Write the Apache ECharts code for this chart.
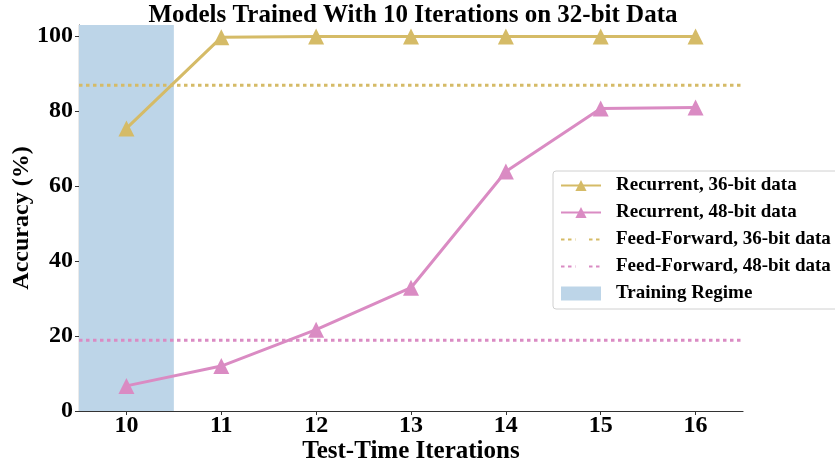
<!DOCTYPE html>
<html>
<head>
<meta charset="utf-8">
<script src="https://cdn.jsdelivr.net/npm/echarts@6/dist/echarts.min.js"></script>
<style>
  html, body { margin: 0; padding: 0; background: #fff; }
  #chart { width: 835px; height: 465px; }
</style>
</head>
<body>
<div id="chart"></div>
<script>
// values
const iterations = [10, 11, 12, 13, 14, 15, 16];
const recurrent36 = [75.4, 99.7, 99.9, 99.9, 99.9, 99.9, 99.9];
const recurrent48 = [6.7, 12.0, 21.7, 32.9, 63.9, 80.7, 81.0];
const feedForward36 = 86.9;
const feedForward48 = 18.9;
const trainingRegime = [9.5, 10.5];
const xRange = [9.5, 16.5];
const yTicks = [0, 20, 40, 60, 80, 100];

const gold = "#d5bb67";
const pink = "#da8bc3";
const shade = "#bdd5e8";
const font = "Liberation Serif";

function pairs(xs, ys) {
  return xs.map((x, i) => [x, ys[i]]);
}

const chart = echarts.init(document.getElementById("chart"));

chart.setOption({
  animation: false,
  textStyle: { fontFamily: font },
  title: {
    text: "Models Trained With 10 Iterations on 32-bit Data",
    left: 408,
    top: -2,
    textAlign: "center",
    textStyle: { fontFamily: font, fontWeight: "bold", fontSize: 25, color: "#000" },
  },
  grid: { left: 79, right: 92, top: 25, bottom: 54, outerBoundsMode: "none", containLabel: false },
  legend: {
    left: 553,
    top: 171,
    orient: "vertical",
    padding: [5, 10, 6, 7],
    itemWidth: 40,
    itemHeight: 14,
    itemGap: 8,
    backgroundColor: "#fff",
    borderColor: "#d0d0d0",
    borderWidth: 1,
    borderRadius: 3,
    textStyle: { fontFamily: font, fontWeight: "bold", fontSize: 19, color: "#000", padding: [0, 0, 0, 10] },
    data: [
      { name: "Recurrent, 36-bit data" },
      { name: "Recurrent, 48-bit data" },
      { name: "Feed-Forward, 36-bit data" },
      { name: "Feed-Forward, 48-bit data" },
      { name: "Training Regime", icon: "rect" },
    ],
  },
  xAxis: {
    type: "value",
    min: xRange[0],
    max: xRange[1],
    name: "Test-Time Iterations",
    nameLocation: "middle",
    nameGap: 28,
    nameMoveOverlap: false,
    nameTextStyle: { fontFamily: font, fontWeight: "bold", fontSize: 25, color: "#000" },
    axisLine: { lineStyle: { color: "#333", width: 1.2 } },
    axisTick: { show: true, customValues: iterations, length: 4, lineStyle: { color: "#333" } },
    axisLabel: {
      customValues: iterations,
      fontFamily: font, fontWeight: "bold", fontSize: 24, color: "#000", margin: 3,
    },
    splitLine: { show: false },
  },
  yAxis: {
    type: "value",
    min: 0,
    max: 103,
    name: "Accuracy (%)",
    nameLocation: "middle",
    nameGap: 45,
    nameMoveOverlap: false,
    nameRotate: 90,
    nameTextStyle: { fontFamily: font, fontWeight: "bold", fontSize: 24, color: "#000" },
    axisLine: { show: true, lineStyle: { color: "#333", width: 1.2 } },
    axisTick: { show: true, customValues: yTicks, length: 4, lineStyle: { color: "#333" } },
    axisLabel: {
      customValues: yTicks,
      fontFamily: font, fontWeight: "bold", fontSize: 24, color: "#000", margin: 6,
    },
    splitLine: { show: false },
  },
  series: [
    {
      name: "Training Regime",
      type: "line",
      data: [],
      itemStyle: { color: shade },
      z: 1,
      markArea: {
        silent: true,
        itemStyle: { color: shade },
        data: [[{ xAxis: trainingRegime[0] }, { xAxis: trainingRegime[1] }]],
      },
    },
    {
      name: "Feed-Forward, 36-bit data",
      type: "line",
      data: pairs(xRange, [feedForward36, feedForward36]),
      showSymbol: false,
      lineStyle: { color: gold, width: 3, type: [3.5, 3.5] },
      itemStyle: { color: "transparent", borderColor: "transparent" },
      z: 2,
    },
    {
      name: "Feed-Forward, 48-bit data",
      type: "line",
      data: pairs(xRange, [feedForward48, feedForward48]),
      showSymbol: false,
      lineStyle: { color: pink, width: 3, type: [3.5, 3.5] },
      itemStyle: { color: "transparent", borderColor: "transparent" },
      z: 2,
    },
    {
      name: "Recurrent, 36-bit data",
      type: "line",
      data: pairs(iterations, recurrent36),
      symbol: "triangle",
      symbolSize: 16,
      lineStyle: { color: gold, width: 3 },
      itemStyle: { color: gold },
      z: 3,
    },
    {
      name: "Recurrent, 48-bit data",
      type: "line",
      data: pairs(iterations, recurrent48),
      symbol: "triangle",
      symbolSize: 16,
      lineStyle: { color: pink, width: 3 },
      itemStyle: { color: pink },
      z: 3,
    },
  ],
});
</script>
</body>
</html>
